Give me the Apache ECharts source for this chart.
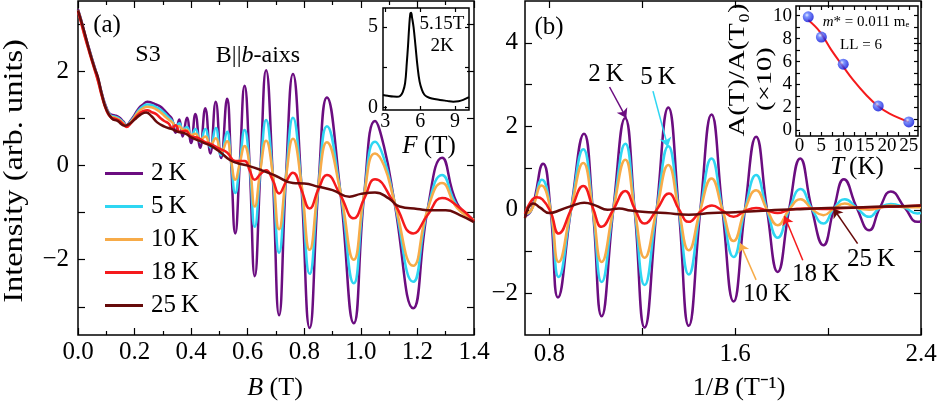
<!DOCTYPE html>
<html><head><meta charset="utf-8">
<script src="https://cdn.jsdelivr.net/npm/echarts@6/dist/echarts.min.js"></script>
<style>html,body{margin:0;padding:0;background:#fff}#c{width:938px;height:405px}</style>
</head><body><div id="c"></div>
<script>
const FONT = 'Liberation Serif';
const seriesNames = ['2\u2009K', '5\u2009K', '10\u2009K', '18\u2009K', '25\u2009K'];
const colors = ['#6b0d80', '#2ed6f2', '#f7ab48', '#f51a1c', '#660a0a'];

// Panel (a): Intensity vs B (T)
const a2K = [[0.000,3.32],[0.010,3.12],[0.025,2.78],[0.040,2.47],[0.055,2.17],[0.070,1.87],[0.085,1.52],[0.100,1.24],[0.115,1.09],[0.130,1.07],[0.145,1.03],[0.160,0.94],[0.172,0.86],[0.185,0.95],[0.200,1.08],[0.215,1.22],[0.230,1.30],[0.245,1.36],[0.260,1.34],[0.275,1.30],[0.290,1.26],[0.305,1.18],[0.320,1.08],[0.333,0.98],[0.345,0.70],[0.358,0.98],[0.370,0.62],[0.385,1.02],[0.400,0.48],[0.415,1.10],[0.432,0.38],[0.450,1.22],[0.468,0.26],[0.487,1.36],[0.506,0.16],[0.527,1.42],[0.541,0.10],[0.556,-1.44],[0.572,0.05],[0.589,1.70],[0.607,-0.02],[0.625,-2.35],[0.645,-0.08],[0.665,2.03],[0.688,-0.15],[0.711,-3.18],[0.735,-0.26],[0.760,1.95],[0.789,-0.34],[0.819,-3.45],[0.850,-0.43],[0.880,1.45],[0.927,-0.53],[0.975,-3.35],[1.012,-0.60],[1.050,0.95],[1.082,0.40],[1.118,-0.75],[1.185,-3.03],[1.236,-0.93],[1.287,0.17],[1.340,-0.80],[1.400,-1.15]];
const a5K = [[0.000,3.30],[0.010,3.10],[0.025,2.76],[0.040,2.45],[0.055,2.15],[0.070,1.85],[0.085,1.50],[0.100,1.22],[0.115,1.07],[0.130,1.04],[0.145,1.00],[0.160,0.92],[0.172,0.85],[0.185,0.93],[0.200,1.05],[0.215,1.18],[0.230,1.26],[0.245,1.30],[0.260,1.29],[0.275,1.25],[0.290,1.20],[0.305,1.12],[0.320,1.03],[0.333,0.95],[0.345,0.84],[0.358,0.90],[0.370,0.76],[0.385,0.82],[0.400,0.62],[0.415,0.78],[0.432,0.50],[0.450,0.78],[0.468,0.38],[0.487,0.80],[0.506,0.22],[0.527,0.72],[0.541,0.10],[0.556,-0.58],[0.572,0.05],[0.589,0.76],[0.607,-0.02],[0.625,-1.30],[0.645,-0.08],[0.665,0.97],[0.688,-0.15],[0.711,-1.85],[0.735,-0.26],[0.760,1.02],[0.789,-0.34],[0.819,-2.30],[0.850,-0.43],[0.880,0.84],[0.927,-0.53],[0.975,-2.50],[1.012,-0.60],[1.050,0.51],[1.082,0.15],[1.118,-0.75],[1.185,-2.47],[1.236,-0.93],[1.287,-0.20],[1.340,-0.85],[1.400,-1.15]];
const a10K = [[0.000,3.30],[0.010,3.08],[0.025,2.74],[0.040,2.43],[0.055,2.13],[0.070,1.83],[0.085,1.48],[0.100,1.20],[0.115,1.05],[0.130,1.02],[0.145,0.98],[0.160,0.90],[0.172,0.84],[0.185,0.91],[0.200,1.03],[0.215,1.15],[0.230,1.22],[0.245,1.25],[0.260,1.24],[0.275,1.20],[0.290,1.14],[0.305,1.06],[0.320,0.98],[0.333,0.92],[0.345,0.84],[0.358,0.84],[0.370,0.77],[0.385,0.76],[0.400,0.65],[0.415,0.68],[0.432,0.55],[0.450,0.62],[0.468,0.44],[0.487,0.58],[0.506,0.28],[0.527,0.52],[0.541,0.12],[0.556,-0.30],[0.572,0.05],[0.589,0.42],[0.607,0.00],[0.625,-0.87],[0.645,-0.08],[0.665,0.53],[0.688,-0.15],[0.711,-1.35],[0.735,-0.26],[0.760,0.57],[0.789,-0.34],[0.819,-1.79],[0.850,-0.43],[0.880,0.50],[0.927,-0.53],[0.975,-2.00],[1.012,-0.60],[1.050,0.26],[1.082,0.00],[1.118,-0.75],[1.185,-2.13],[1.236,-0.93],[1.287,-0.37],[1.340,-0.90],[1.400,-1.15]];
const a18K = [[0.000,3.28],[0.010,3.06],[0.025,2.72],[0.040,2.41],[0.055,2.11],[0.070,1.81],[0.085,1.46],[0.100,1.18],[0.115,1.03],[0.130,1.00],[0.145,0.96],[0.160,0.88],[0.172,0.82],[0.185,0.89],[0.200,1.00],[0.215,1.10],[0.230,1.16],[0.245,1.18],[0.260,1.14],[0.275,1.10],[0.290,1.02],[0.305,0.95],[0.320,0.90],[0.333,0.80],[0.345,0.86],[0.360,0.72],[0.380,0.74],[0.400,0.62],[0.420,0.60],[0.450,0.50],[0.470,0.46],[0.500,0.36],[0.527,0.28],[0.556,0.10],[0.589,0.10],[0.607,-0.10],[0.625,-0.30],[0.645,-0.18],[0.665,-0.10],[0.688,-0.30],[0.711,-0.59],[0.735,-0.35],[0.760,-0.15],[0.789,-0.50],[0.819,-0.91],[0.850,-0.50],[0.880,-0.20],[0.927,-0.62],[0.975,-1.12],[1.012,-0.70],[1.050,-0.29],[1.118,-0.80],[1.185,-1.44],[1.236,-1.05],[1.287,-0.69],[1.340,-0.85],[1.400,-1.18]];
const a25K = [[0.000,3.30],[0.020,2.90],[0.040,2.45],[0.060,2.05],[0.070,1.89],[0.085,1.50],[0.100,1.20],[0.120,1.00],[0.140,0.95],[0.165,0.85],[0.180,0.88],[0.200,0.98],[0.220,1.08],[0.241,1.13],[0.260,1.05],[0.280,0.92],[0.306,0.83],[0.330,0.78],[0.353,0.72],[0.380,0.68],[0.400,0.60],[0.420,0.55],[0.447,0.48],[0.470,0.42],[0.500,0.30],[0.537,0.12],[0.565,0.05],[0.600,0.00],[0.650,-0.10],[0.700,-0.22],[0.760,-0.37],[0.800,-0.38],[0.850,-0.45],[0.900,-0.52],[0.960,-0.66],[1.000,-0.60],[1.050,-0.57],[1.100,-0.70],[1.137,-0.87],[1.200,-0.92],[1.250,-0.95],[1.300,-0.95],[1.350,-1.05],[1.400,-1.20]];

// Panel (b): Intensity vs 1/B (1/T)
const b2K = [[0.695,-0.15],[0.723,0.00],[0.773,1.10],[0.805,0.00],[0.837,-2.10],[0.893,0.00],[0.949,1.82],[0.987,0.00],[1.025,-2.55],[1.075,0.00],[1.126,2.20],[1.167,0.00],[1.210,-2.82],[1.262,0.00],[1.312,2.45],[1.357,0.00],[1.400,-2.78],[1.450,0.00],[1.498,2.28],[1.545,0.00],[1.593,-2.20],[1.642,0.00],[1.690,1.75],[1.737,0.00],[1.783,-1.49],[1.832,0.00],[1.880,1.23],[1.930,0.02],[1.980,-0.85],[2.025,0.03],[2.068,0.73],[2.124,0.04],[2.177,-0.49],[2.223,0.05],[2.270,0.44],[2.330,0.05],[2.385,-0.29],[2.400,-0.28]];
const b5K = [[0.695,-0.12],[0.723,0.00],[0.768,0.72],[0.805,0.00],[0.840,-1.61],[0.893,0.00],[0.946,1.45],[0.987,0.00],[1.025,-1.73],[1.075,0.00],[1.127,1.58],[1.167,0.00],[1.210,-1.80],[1.262,0.00],[1.312,1.52],[1.357,0.00],[1.400,-1.55],[1.450,0.00],[1.498,1.23],[1.545,0.00],[1.593,-1.13],[1.642,0.00],[1.690,0.83],[1.737,0.00],[1.783,-0.67],[1.832,0.00],[1.882,0.50],[1.930,0.02],[1.980,-0.33],[2.025,0.03],[2.072,0.25],[2.124,0.04],[2.177,-0.17],[2.223,0.05],[2.270,0.14],[2.330,0.05],[2.385,-0.09],[2.400,-0.08]];
const b10K = [[0.695,-0.10],[0.723,0.00],[0.766,0.58],[0.805,0.00],[0.840,-1.25],[0.893,0.00],[0.946,1.12],[0.987,0.00],[1.025,-1.25],[1.075,0.00],[1.127,1.20],[1.167,0.00],[1.210,-1.15],[1.262,0.00],[1.312,1.07],[1.357,0.00],[1.400,-0.97],[1.450,0.00],[1.498,0.75],[1.545,0.00],[1.593,-0.75],[1.642,0.00],[1.690,0.47],[1.737,0.00],[1.783,-0.37],[1.832,0.00],[1.882,0.25],[1.930,0.02],[1.980,-0.13],[2.025,0.03],[2.072,0.15],[2.124,0.04],[2.177,0.00],[2.223,0.05],[2.270,0.10],[2.330,0.06],[2.400,0.06]];
const b18K = [[0.695,-0.10],[0.715,0.15],[0.745,0.30],[0.770,0.25],[0.805,-0.05],[0.840,-0.57],[0.893,0.00],[0.946,0.57],[0.987,0.05],[1.025,-0.41],[1.075,0.00],[1.127,0.45],[1.167,0.03],[1.210,-0.33],[1.262,0.00],[1.315,0.39],[1.357,0.02],[1.400,-0.29],[1.450,-0.05],[1.500,0.10],[1.545,-0.02],[1.593,-0.17],[1.642,-0.03],[1.690,0.04],[1.737,-0.02],[1.783,-0.08],[1.832,0.00],[1.900,0.03],[2.000,0.02],[2.100,0.05],[2.200,0.06],[2.300,0.08],[2.400,0.10]];
const b25K = [[0.695,-0.20],[0.710,0.05],[0.730,0.15],[0.760,0.05],[0.800,-0.08],[0.850,0.00],[0.900,0.10],[0.950,0.17],[1.000,0.10],[1.050,0.00],[1.100,0.03],[1.150,-0.02],[1.200,-0.05],[1.300,-0.08],[1.400,-0.12],[1.500,-0.08],[1.600,-0.06],[1.700,-0.03],[1.800,0.00],[1.900,0.02],[2.000,0.04],[2.100,0.05],[2.200,0.07],[2.300,0.08],[2.400,0.10]];

// Inset (a): FFT amplitude vs F (T)
const fftCurve = [[2.8,0.77],[3.2,0.72],[3.7,0.67],[4.0,0.66],[4.27,0.71],[4.5,0.95],[4.7,1.5],[4.85,2.8],[4.95,3.8],[5.05,5.0],[5.15,5.85],[5.22,5.9],[5.3,5.6],[5.43,5.0],[5.6,3.8],[5.77,2.55],[5.95,1.6],[6.15,1.09],[6.35,0.8],[6.57,0.67],[7.0,0.55],[7.7,0.46],[8.3,0.4],[8.85,0.35],[9.3,0.38],[9.7,0.46],[10.2,0.63]];
// Inset (b): amplitude ratio vs T (K)
const ampT = [2, 5, 10, 18, 25];
const ampVal = [9.91, 8.14, 5.77, 2.13, 0.73];
const fitCurve = [[2,9.62],[4.66,8.6],[7.3,7.0],[9.75,5.69],[12.3,4.37],[15.3,3.06],[18,2.1],[20.6,1.46],[25,0.73]];

// Tick values
const aXTickInterval = 0.2;
const aYLabels = [-2, 0, 2];
const aYTicks = [-3, -2, -1, 0, 1, 2, 3];
const bXLabels = [0.8, 1.6, 2.4];
const bXTicks = [0.8, 1.2, 1.6, 2.0, 2.4];
const bYLabels = [-2, 0, 2, 4];
const bYTicks = [-2, -1, 0, 1, 2, 3, 4];
const iaXLabels = [3, 6, 9];
const iaYLabels = [0, 5];
const iaYTicks = [0, 2.5, 5];
const ibXLabels = [0, 5, 10, 15, 20, 25];
const ibXTicks = [0, 2.5, 5, 7.5, 10, 12.5, 15, 17.5, 20, 22.5, 25];
const ibYLabels = [0, 2, 4, 6, 8, 10];
const ibYTicks = [0, 1, 2, 3, 4, 5, 6, 7, 8, 9, 10];

const aSeries = [a2K, a5K, a10K, a18K, a25K];
const bSeries = [b2K, b5K, b10K, b18K, b25K];

// Arrow annotations in panel (b) [from, to] in data coordinates
const bArrows = [
  [[1.059, 2.94], [1.131, 2.20]],
  [[1.246, 2.84], [1.310, 1.51]],
  [[1.690, -1.68], [1.621, -0.80]],
  [[1.891, -1.21], [1.812, -0.15]],
  [[2.127, -0.81], [2.023, 0.03]]
];

const fmtNum = (d) => (v) => (v < 0 ? '\u2212' + (-v).toFixed(d) : v.toFixed(d));

function axis(grid, pos, min, max, o) {
  const a = {
    type: 'value', gridIndex: grid, position: pos, min: min, max: max,
    splitLine: { show: false },
    axisLine: { show: false, onZero: false },
    axisTick: { show: true, inside: true, length: o.tickLen || 7, lineStyle: { color: '#000', width: 1.2 } },
    axisLabel: { show: !!o.labels, color: '#000', fontFamily: FONT, fontSize: o.fs || 25, margin: o.margin || 6,
                 formatter: o.fmt || fmtNum(0), interval: 0, hideOverlap: false }
  };
  if (o.interval) {
    a.interval = o.interval;
    a.minorTick = { show: true, splitNumber: 2, length: 4, lineStyle: { color: '#000', width: 1.2 } };
  }
  if (o.ticks) a.axisTick.customValues = o.ticks;
  if (o.labels && o.labels !== true) a.axisLabel.customValues = o.labels;
  return a;
}

const xAxes = [
  axis(0, 'bottom', 0, 1.4, { interval: aXTickInterval, labels: true, fmt: fmtNum(1), margin: 5 }),
  axis(0, 'top', 0, 1.4, { interval: aXTickInterval }),
  axis(1, 'bottom', 0.695, 2.4, { ticks: bXTicks, labels: bXLabels, fmt: fmtNum(1), margin: 7 }),
  axis(1, 'top', 0.695, 2.4, { ticks: bXTicks }),
  axis(2, 'bottom', 2.8, 10.2, { ticks: iaXLabels, labels: iaXLabels, fs: 20, tickLen: 4, margin: 2 }),
  axis(2, 'top', 2.8, 10.2, { ticks: iaXLabels, tickLen: 4 }),
  axis(3, 'bottom', -0.8, 27.1, { ticks: ibXTicks, labels: ibXLabels, fs: 19, tickLen: 4, margin: 1 }),
  axis(3, 'top', -0.8, 27.1, { ticks: ibXTicks, tickLen: 4 })
];
const yAxes = [
  axis(0, 'left', -3.6, 3.5, { ticks: aYTicks, labels: aYLabels, margin: 9 }),
  axis(0, 'right', -3.6, 3.5, { ticks: aYTicks }),
  axis(1, 'left', -3.0, 5.0, { ticks: bYTicks, labels: bYLabels, margin: 7 }),
  axis(1, 'right', -3.0, 5.0, { ticks: bYTicks }),
  axis(2, 'left', -0.17, 6.2, { ticks: iaYTicks, labels: iaYLabels, fs: 20, tickLen: 4, margin: 5 }),
  axis(2, 'right', -0.17, 6.2, { ticks: iaYTicks, tickLen: 4 }),
  axis(3, 'left', -0.5, 10.85, { ticks: ibYTicks, labels: ibYLabels, fs: 19, tickLen: 4, margin: 4 }),
  axis(3, 'right', -0.5, 10.85, { ticks: ibYTicks, tickLen: 4 })
];

const series = [];
aSeries.forEach((d, i) => series.push({
  name: seriesNames[i], type: 'line', xAxisIndex: 0, yAxisIndex: 0, data: d,
  showSymbol: false, symbol: 'none', smooth: 0.5, lineStyle: { color: colors[i], width: 2.5 },
  itemStyle: { color: colors[i] }
}));
bSeries.forEach((d, i) => series.push({
  name: seriesNames[i], type: 'line', xAxisIndex: 2, yAxisIndex: 2, data: d,
  showSymbol: false, symbol: 'none', smooth: 0.5, lineStyle: { color: colors[i], width: 2.5 },
  itemStyle: { color: colors[i] },
  markLine: {
    silent: true, symbol: ['none', 'arrow'], symbolSize: 9, label: { show: false },
    lineStyle: { color: colors[i], width: 1.5, type: 'solid' }, emphasis: { disabled: true },
    data: [[{ coord: bArrows[i][0] }, { coord: bArrows[i][1] }]]
  }
}));
series.push({
  type: 'line', xAxisIndex: 4, yAxisIndex: 4, data: fftCurve, showSymbol: false, symbol: 'none',
  smooth: 0.4, lineStyle: { color: '#000', width: 2 }
});
series.push({
  type: 'line', xAxisIndex: 6, yAxisIndex: 6, data: fitCurve, showSymbol: false, symbol: 'none',
  smooth: 0.4, lineStyle: { color: '#f51a1c', width: 2 }
});
series.push({
  type: 'scatter', xAxisIndex: 6, yAxisIndex: 6, data: ampT.map((t, i) => [t, ampVal[i]]),
  symbolSize: 11, z: 5,
  itemStyle: { color: { type: 'radial', x: 0.38, y: 0.35, r: 0.65, colorStops: [
    { offset: 0, color: '#dfe8ff' }, { offset: 0.3, color: '#5b78ff' }, { offset: 1, color: '#0b12d8' }] } }
});

function txt(x, y, text, fs, extra) {
  return Object.assign({
    type: 'text', x: x, y: y, z: 100, silent: true,
    style: {
      text: text, fontFamily: FONT, fontSize: fs, fill: '#000',
      align: 'center', verticalAlign: 'middle', textAlign: 'center', textVerticalAlign: 'middle',
      rich: {
        i: { fontFamily: FONT, fontSize: fs, fontStyle: 'italic', fill: '#000' },
        n: { fontFamily: FONT, fontSize: fs, fill: '#000' }
      }
    }
  }, extra || {});
}

const graphics = [
  txt(107, 25, '(a)', 25),
  txt(148, 55, 'S3', 24),
  txt(258, 56, 'B||{i|b}-aixs', 24),
  txt(549, 27, '(b)', 25),
  txt(442, 24, '5.15T', 19),
  txt(442, 46, '2K', 19),
  txt(429, 146, '{i|F} (T)', 25),
  txt(857, 167, '{i|T}\u2009(K)', 25),
  txt(866, 22, '{i|m}* = 0.011 m\u2091', 15),
  txt(861, 45, 'LL = 6', 15),
  txt(738, 70, 'A(T)/A(T\u2080)', 24, { rotation: Math.PI / 2, scaleX: 1.2 }),
  txt(765, 79, '(\u00d710)', 22, { rotation: Math.PI / 2, scaleX: 1.3 }),
  txt(15, 171, 'Intensity (arb. units)', 27, { rotation: Math.PI / 2, scaleX: 1.2 }),
  txt(275, 388, '{i|B} (T)', 26),
  txt(739, 388, '1/{i|B} (T\u207b\u00b9)', 26),
  txt(606, 74, '2\u2009K', 25),
  txt(658, 77, '5\u2009K', 25),
  txt(767, 294, '10\u2009K', 25),
  txt(816, 274, '18\u2009K', 25),
  txt(871, 259, '25\u2009K', 25)
];

const chart = echarts.init(document.getElementById('c'), null, { renderer: 'canvas' });
const gridBase = { show: true, borderColor: '#000', borderWidth: 1.5, containLabel: false, outerBoundsMode: 'none' };
chart.setOption({
  animation: false,
  backgroundColor: '#fff',
  textStyle: { fontFamily: FONT },
  grid: [
    Object.assign({ left: 78, top: 1, width: 396, height: 334, backgroundColor: 'transparent' }, gridBase),
    Object.assign({ left: 525, top: 1, width: 396, height: 334, backgroundColor: 'transparent' }, gridBase),
    Object.assign({ left: 383, top: 8, width: 86, height: 102, backgroundColor: '#fff' }, gridBase),
    Object.assign({ left: 796, top: 6, width: 122, height: 130, backgroundColor: '#fff' }, gridBase)
  ],
  legend: {
    data: seriesNames, orient: 'vertical', left: 100, top: 156, itemWidth: 38, itemHeight: 3,
    itemGap: 8, icon: 'rect', selectedMode: false,
    textStyle: { fontFamily: FONT, fontSize: 25, color: '#000', lineHeight: 24, padding: [0, 0, 0, 3] }
  },
  xAxis: xAxes,
  yAxis: yAxes,
  series: series,
  graphic: graphics
});
</script>
</body></html>
